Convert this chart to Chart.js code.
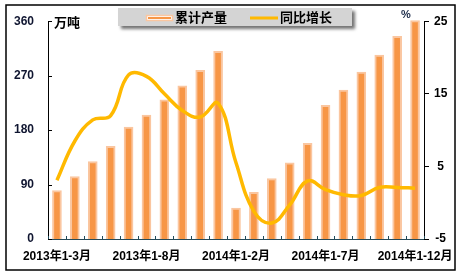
<!DOCTYPE html>
<html>
<head>
<meta charset="utf-8">
<script src="https://cdn.jsdelivr.net/npm/chart.js@4/dist/chart.umd.min.js"></script>
<style>
  html, body { margin: 0; padding: 0; background: #fff; }
  #wrap { width: 466px; height: 277px; position: relative; }
</style>
</head>
<body>
<div id="wrap"><canvas id="c" width="466" height="277"></canvas></div>
<script>
// Periods (cumulative, year to date)
const categories = [
  '2013年1-3月', '2013年1-4月', '2013年1-5月', '2013年1-6月', '2013年1-7月',
  '2013年1-8月', '2013年1-9月', '2013年1-10月', '2013年1-11月', '2013年1-12月',
  '2014年1-2月', '2014年1-3月', '2014年1-4月', '2014年1-5月', '2014年1-6月',
  '2014年1-7月', '2014年1-8月', '2014年1-9月', '2014年1-10月', '2014年1-11月',
  '2014年1-12月'
];
// 累计产量, 万吨
const output = [80, 103, 128, 153, 185, 205, 230, 253, 279, 310,
                51, 77, 100, 126, 158, 221, 246, 276, 304, 335, 361];
// 同比增长, %
const growth = [3.1, 8.5, 11.4, 12.0, 17.6, 17.4, 15.0, 12.7, 11.8, 13.7,
                5.5, -1.2, -2.8, -0.3, 3.0, 1.8, 1.1, 1.0, 2.1, 2.1, 2.0];
// Axis ticks
const leftTicks = [0, 90, 180, 270, 360];
const rightTicks = [-5, 5, 15, 25];
const seriesNames = ['累计产量', '同比增长'];
const unitLeft = '万吨';
const unitRight = '%';

const BAR_FILL = '#F79646';
const BAR_EDGE = '#FAC6A0';
const LINE_COL = '#FFB900';
const FONT = "'Liberation Sans', 'Noto Sans CJK SC', sans-serif";

Chart.defaults.font.family = FONT;
Chart.defaults.font.size = 12;
Chart.defaults.font.weight = 'bold';
Chart.defaults.color = '#000';

// Frame, legend box, unit captions and inward tick marks
const decor = {
  id: 'decor',
  beforeDraw(chart) {
    const ctx = chart.ctx;
    ctx.save();
    ctx.fillStyle = '#fff';
    ctx.fillRect(0, 0, chart.width, chart.height);
    ctx.strokeStyle = '#000';
    ctx.lineWidth = 1.5;
    ctx.strokeRect(6, 5, 449, 265);
    ctx.restore();
  },
  afterDatasetsDraw(chart) {
    const ctx = chart.ctx;
    const x = chart.scales.x, yl = chart.scales.y;
    ctx.save();
    // inward ticks on the category axis, at category boundaries
    const step = x.getPixelForValue(1) - x.getPixelForValue(0);
    ctx.strokeStyle = '#1F4A5A';
    ctx.lineWidth = 1;
    for (let i = 0; i <= categories.length; i++) {
      const px = Math.round(x.getPixelForValue(i) - step / 2) + 0.5;
      ctx.beginPath();
      ctx.moveTo(px, x.top);
      ctx.lineTo(px, x.top - 3);
      ctx.stroke();
    }
    // inward ticks on the left value axis
    ctx.strokeStyle = '#000';
    yl.ticks.forEach(t => {
      const py = Math.round(yl.getPixelForValue(t.value)) + 0.5;
      ctx.beginPath();
      ctx.moveTo(yl.right, py);
      ctx.lineTo(yl.right + 4, py);
      ctx.stroke();
    });
    ctx.restore();
  },
  afterDraw(chart) {
    const ctx = chart.ctx;
    ctx.save();
    // legend panel with drop shadow
    ctx.shadowColor = 'rgba(0,0,0,0.55)';
    ctx.shadowBlur = 3;
    ctx.shadowOffsetX = 3;
    ctx.shadowOffsetY = 3;
    ctx.fillStyle = '#D4D4D4';
    ctx.fillRect(118, 8, 234, 18);
    ctx.shadowColor = 'transparent';

    // bar swatch
    ctx.fillStyle = '#fff';
    ctx.fillRect(146, 15, 27, 6);
    ctx.strokeStyle = BAR_EDGE;
    ctx.lineWidth = 1.5;
    ctx.strokeRect(146.5, 15.5, 26, 5);
    ctx.fillStyle = BAR_FILL;
    ctx.fillRect(148, 17, 23, 2);
    // line swatch
    ctx.strokeStyle = LINE_COL;
    ctx.lineWidth = 3;
    ctx.beginPath();
    ctx.moveTo(250, 18);
    ctx.lineTo(278, 18);
    ctx.stroke();

    ctx.fillStyle = '#000';
    ctx.font = "bold 13px 'Noto Sans CJK SC', sans-serif";
    ctx.textBaseline = 'middle';
    ctx.textAlign = 'left';
    ctx.fillText(chart.data.datasets[0].label, 175, 17.5);
    ctx.fillText(chart.data.datasets[1].label, 280, 17.5);

    // unit captions
    ctx.fillText(unitLeft, 54, 22.5);
    ctx.fillStyle = '#1A2A48';
    ctx.font = "bold 11px 'Liberation Sans', sans-serif";
    ctx.fillText(unitRight, 401, 15);
    ctx.restore();
  }
};

new Chart(document.getElementById('c'), {
  data: {
    labels: categories,
    datasets: [
      {
        type: 'bar',
        label: seriesNames[0],
        data: output,
        yAxisID: 'y',
        backgroundColor: BAR_FILL,
        borderColor: BAR_EDGE,
        borderWidth: 2,
        barThickness: 9,
        clip: false,
        order: 1
      },
      {
        type: 'line',
        label: seriesNames[1],
        data: growth,
        yAxisID: 'y1',
        borderColor: LINE_COL,
        borderWidth: 3.5,
        pointRadius: 0,
        tension: 0.42,
        fill: false,
        order: 0
      }
    ]
  },
  options: {
    responsive: false,
    animation: false,
    layout: { padding: { top: 20, left: 0, right: 0, bottom: 0 } },
    plugins: {
      legend: { display: false },
      tooltip: { enabled: false }
    },
    scales: {
      x: {
        grid: { display: false, drawTicks: false },
        border: { display: true, color: '#254A58', width: 1 },
        ticks: {
          autoSkip: false,
          maxRotation: 0,
          padding: 10,
          font: { size: 12, weight: 'bold' },
          callback: (v, i) => (i % 5 === 0 ? categories[i] : '')
        },
        afterFit: s => { s.height = 38; }
      },
      y: {
        position: 'left',
        min: 0,
        max: 360,
        afterBuildTicks: s => { s.ticks = leftTicks.map(v => ({ value: v })); },
        grid: { display: false, drawTicks: false },
        border: { display: true, color: '#000', width: 1 },
        ticks: { padding: 14, color: '#0F1530', font: { size: 12, weight: 'bold' } },
        afterFit: s => { s.width = 48; }
      },
      y1: {
        position: 'right',
        min: -5,
        max: 25,
        afterBuildTicks: s => { s.ticks = rightTicks.map(v => ({ value: v })); },
        grid: { drawOnChartArea: false, drawTicks: true, tickLength: 5, color: '#000' },
        border: { display: true, color: '#000', width: 1 },
        ticks: { padding: 5, crossAlign: 'center', font: { size: 12, weight: 'bold' } },
        afterFit: s => { s.width = 42; }
      }
    }
  },
  plugins: [decor]
});
</script>
</body>
</html>
